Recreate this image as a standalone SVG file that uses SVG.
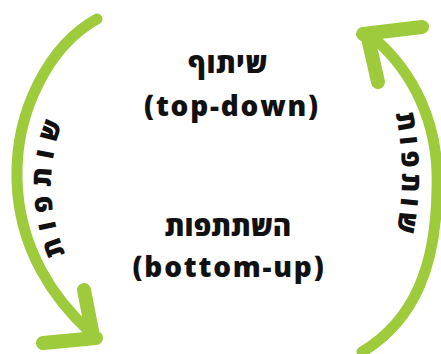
<svg xmlns="http://www.w3.org/2000/svg" width="441" height="354" viewBox="0 0 441 354">
  <style>
    .arrow { fill: none; stroke: #9ECB3B; stroke-linecap: round; stroke-linejoin: round; }
    .shaft { stroke-width: 11; }
    .head { stroke-width: 14; }
    .title { font-family: "Open Sans", "DejaVu Sans", sans-serif; font-weight: 800; font-size: 28px; fill: #111; text-anchor: middle; }
    .side { font-family: "Open Sans", "DejaVu Sans", sans-serif; font-weight: 800; font-size: 27px; fill: #111; text-anchor: middle; }
  </style>
  <defs>
    <path id="leftTextPath" d="M 90.8 294.3 A 170 170 0 0 1 90.8 75.7"/>
    <path id="rightTextPath" d="M 374.6 51.6 A 292 292 0 0 1 374.6 298.4"/>
  </defs>
  <g id="connectors">
    <g id="left-arrow" class="arrow">
      <path class="shaft" d="M 97 19 C 50 45, 15 110, 17 180 C 19 250, 55 300, 90 332"/>
      <path class="head" d="M 84 290 L 93 336"/>
      <path class="head" d="M 43 343 L 96 338"/>
    </g>
    <g id="right-arrow" class="arrow">
      <path class="shaft" d="M 376 40 C 410 70, 440 120, 437 190 C 436 265, 415 320, 362 352"/>
      <path class="head" d="M 363 34 L 422 27"/>
      <path class="head" d="M 368 38 L 378 82"/>
    </g>
  </g>
  <g id="node-top">
    <text class="title" x="228" y="73" letter-spacing="0.5">שיתוף</text>
    <text class="title" x="232" y="116" letter-spacing="1.8">(top-down)</text>
  </g>
  <g id="node-bottom">
    <text class="title" x="228" y="236" letter-spacing="0">השתתפות</text>
    <text class="title" x="229" y="277" letter-spacing="1.8">(bottom-up)</text>
  </g>
  <g id="label-left">
    <text class="side" direction="rtl" letter-spacing="8"><textPath href="#leftTextPath" startOffset="50%">שותפות</textPath></text>
  </g>
  <g id="label-right">
    <text class="side" direction="rtl" letter-spacing="5"><textPath href="#rightTextPath" startOffset="50%">שותפות</textPath></text>
  </g>
</svg>
